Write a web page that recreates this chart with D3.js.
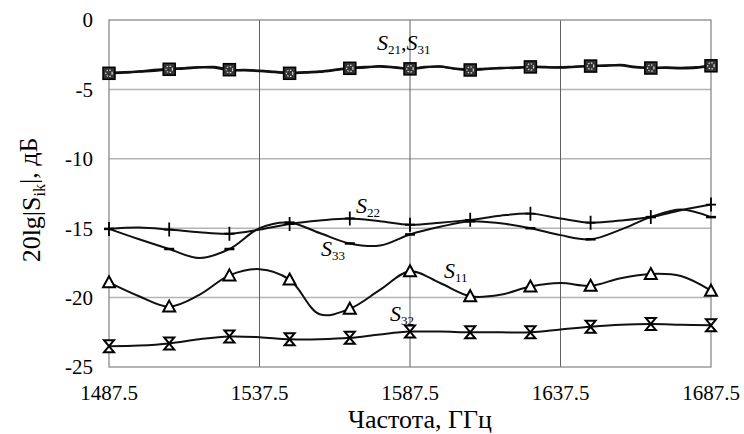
<!DOCTYPE html>
<html>
<head>
<meta charset="utf-8">
<script src="https://cdn.jsdelivr.net/npm/d3@7"></script>
<style>
  body { margin: 0; background: #fff; }
  text { font-family: "Liberation Serif", "Tinos", "Times New Roman", "DejaVu Serif", serif; }
</style>
</head>
<body>
<svg id="chart"></svg>
<script>
// chart size and plot margins
const width = 744;
const height = 434;
const margin = { top: 20, right: 33, bottom: 67, left: 109 };
const serif = "'Liberation Serif', Tinos, 'Times New Roman', 'DejaVu Serif', serif";

// frequencies (GHz)
const freqFine = d3.range(41).map(i => 1487.5 + 5 * i);
const freq = d3.range(21).map(i => 1487.5 + 10 * i);
const xTicks = [1487.5, 1537.5, 1587.5, 1637.5, 1687.5];
const yTicks = [0, -5, -10, -15, -20, -25];

// S21 and S31, read every 5 GHz
const s21 = [-3.84, -3.8, -3.72, -3.66, -3.55, -3.5, -3.42, -3.38, -3.58, -3.64,
  -3.68, -3.76, -3.84, -3.8, -3.74, -3.62, -3.48, -3.44, -3.32, -3.4,
  -3.52, -3.42, -3.34, -3.52, -3.6, -3.55, -3.48, -3.42, -3.38, -3.42,
  -3.4, -3.35, -3.32, -3.3, -3.24, -3.38, -3.46, -3.45, -3.48, -3.45, -3.3];
const s31 = [-3.8, -3.76, -3.7, -3.6, -3.52, -3.46, -3.4, -3.44, -3.6, -3.6,
  -3.64, -3.72, -3.8, -3.76, -3.7, -3.58, -3.44, -3.38, -3.36, -3.44,
  -3.5, -3.38, -3.36, -3.5, -3.56, -3.5, -3.44, -3.46, -3.36, -3.38,
  -3.44, -3.38, -3.3, -3.26, -3.28, -3.42, -3.44, -3.42, -3.44, -3.4, -3.26];

// the other curves, read every 10 GHz
const s22 = [-15.05, -14.95, -15.1, -15.3, -15.4, -15.1, -14.7, -14.45, -14.3, -14.5, -14.75,
  -14.6, -14.4, -14.1, -13.95, -14.3, -14.6, -14.45, -14.2, -13.7, -13.3];
const s33 = [-15.05, -15.8, -16.5, -17.15, -16.5, -15.0, -14.6, -15.35, -16.1, -16.25, -15.45,
  -14.9, -14.5, -14.65, -15.0, -15.5, -15.8, -15.1, -14.2, -13.65, -14.2];
const s11 = [-18.9, -19.9, -20.65, -19.8, -18.4, -17.95, -18.7, -21.2, -20.8, -19.45, -18.1,
  -18.95, -19.9, -19.8, -19.2, -18.95, -19.15, -18.6, -18.3, -18.45, -19.5];
const s32 = [-23.5, -23.45, -23.3, -23.0, -22.8, -22.85, -23.0, -23.0, -22.9, -22.65, -22.45,
  -22.45, -22.5, -22.5, -22.5, -22.3, -22.1, -21.95, -21.9, -21.95, -22.0];

const svg = d3.select('#chart')
  .attr("width", width).attr("height", height)
  .attr("font-family", serif);
const innerW = width - margin.left - margin.right;
const innerH = height - margin.top - margin.bottom;

const x = d3.scaleLinear().domain([1487.5, 1687.5]).range([margin.left, margin.left + innerW]);
const y = d3.scaleLinear().domain([-25, 0]).range([margin.top + innerH, margin.top]);

// horizontal grid lines
svg.append("g")
  .selectAll("line")
  .data(yTicks.slice(1, -1))
  .join("line")
  .attr("x1", x(1487.5)).attr("x2", x(1687.5))
  .attr("y1", d => y(d)).attr("y2", d => y(d))
  .attr("stroke", "#b4b4b4").attr("stroke-width", 1.5);

// vertical grid lines
svg.append("g")
  .selectAll("line")
  .data(xTicks.slice(1, -1))
  .join("line")
  .attr("x1", d => x(d)).attr("x2", d => x(d))
  .attr("y1", y(0)).attr("y2", y(-25))
  .attr("stroke", "#606060").attr("stroke-width", 1);

// plot frame
svg.append("rect")
  .attr("x", x(1487.5)).attr("y", y(0))
  .attr("width", innerW).attr("height", innerH)
  .attr("fill", "none").attr("stroke", "#8a8a8a").attr("stroke-width", 1.3);

// tick labels
svg.append("g")
  .selectAll("text")
  .data(yTicks)
  .join("text")
  .attr("x", 93)
  .attr("y", d => y(d))
  .attr("dy", "0.35em")
  .attr("text-anchor", "end")
  .attr("font-size", 21)
  .text(d => d);

svg.append("g")
  .selectAll("text")
  .data(xTicks)
  .join("text")
  .attr("x", d => x(d))
  .attr("y", 400)
  .attr("text-anchor", "middle")
  .attr("font-size", 21)
  .text(d => d.toFixed(1));

// axis titles
svg.append("text")
  .attr("x", 420).attr("y", 428)
  .attr("text-anchor", "middle")
  .attr("font-size", 26)
  .text("Частота, ГГц");

const yTitle = svg.append("text")
  .attr("transform", "translate(31,200) rotate(-90)")
  .attr("text-anchor", "middle")
  .attr("dy", "0.35em")
  .attr("font-size", 26);
yTitle.append("tspan").text("20lg|S");
yTitle.append("tspan").attr("font-size", 16).attr("dy", "0.3em").text("ik");
yTitle.append("tspan").attr("dy", "-0.3em").text("|, дБ");

// line generator
const line = (xs) => d3.line()
  .x((d, i) => x(xs[i]))
  .y(d => y(d))
  .curve(d3.curveCatmullRom.alpha(0.5));

const plot = svg.append("g");

function drawCurve(values, xs, w) {
  plot.append("path")
    .datum(values)
    .attr("fill", "none")
    .attr("stroke", "#111")
    .attr("stroke-width", w)
    .attr("d", line(xs));
}

drawCurve(s21, freqFine, 2.2);
drawCurve(s31, freqFine, 2.2);
drawCurve(s22, freq, 2);
drawCurve(s33, freq, 2);
drawCurve(s11, freq, 2);
drawCurve(s32, freq, 2);

// markers every 20 GHz
const markerIdx = d3.range(0, 21, 2);

function drawMarkers(values, xs, step, shape) {
  const g = plot.append("g");
  markerIdx.forEach(k => {
    const i = k * step;
    const m = g.append("g").attr("transform", `translate(${x(xs[i])},${y(values[i])})`);
    shape(m);
  });
}

drawMarkers(s21, freqFine, 2, m => {
  m.append("rect").attr("x", -6).attr("y", -6).attr("width", 12).attr("height", 12)
    .attr("fill", "#333").attr("stroke", "#000").attr("stroke-width", 1.5);
  m.append("circle").attr("r", 3.2).attr("fill", "none")
    .attr("stroke", "#ddd").attr("stroke-width", 1.2).attr("stroke-dasharray", "1.5,1.5");
});

drawMarkers(s22, freq, 1, m => {
  m.append("path").attr("d", "M0,-7V7M-5,0H5")
    .attr("stroke", "#000").attr("stroke-width", 1.8);
});

drawMarkers(s33, freq, 1, m => {
  m.append("path").attr("d", "M-5,0H5")
    .attr("stroke", "#000").attr("stroke-width", 2.5);
});

drawMarkers(s11, freq, 1, m => {
  m.append("path").attr("d", "M0,-6L6,5H-6Z")
    .attr("fill", "#fff").attr("stroke", "#000").attr("stroke-width", 2);
});

drawMarkers(s32, freq, 1, m => {
  m.append("path").attr("d", "M-5,-6H5L-5,6H5Z")
    .attr("fill", "#fff").attr("stroke", "#000").attr("stroke-width", 2);
});

// curve labels
function curveLabel(px, py, sub) {
  const t = svg.append("text").attr("x", px).attr("y", py).attr("font-size", 22);
  t.append("tspan").attr("font-style", "italic").text("S");
  t.append("tspan").attr("font-size", 13).attr("dy", 4).text(sub);
  return t;
}

const lbl = svg.append("text").attr("x", 377).attr("y", 50).attr("font-size", 22);
lbl.append("tspan").attr("font-style", "italic").text("S");
lbl.append("tspan").attr("font-size", 13).attr("dy", 4).text("21");
lbl.append("tspan").attr("dy", -4).text(",");
lbl.append("tspan").attr("font-style", "italic").text("S");
lbl.append("tspan").attr("font-size", 13).attr("dy", 4).text("31");

curveLabel(356, 213, "22");
curveLabel(321, 256, "33");
curveLabel(444, 278, "11");
curveLabel(390, 321, "32");
</script>
</body>
</html>
